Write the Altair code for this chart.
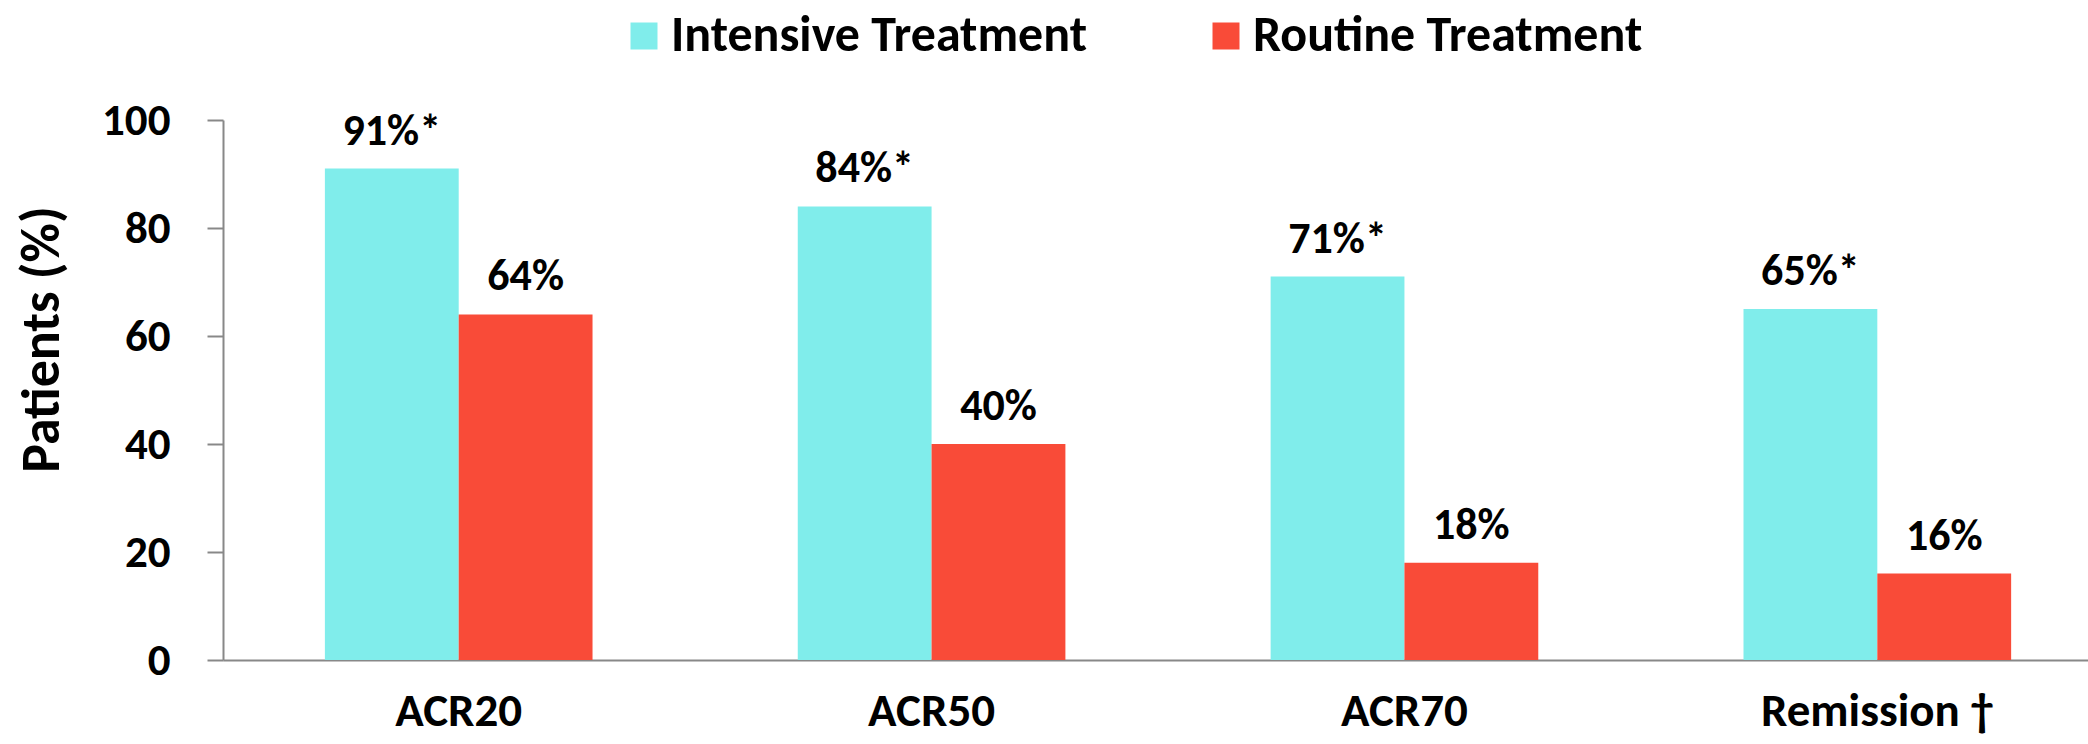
import altair as alt
import pandas as pd

# Response rates by outcome measure for the two treatment strategies
categories = ["ACR20", "ACR50", "ACR70", "Remission †"]
series = ["Intensive Treatment", "Routine Treatment"]
intensive = [91, 84, 71, 65]
routine = [64, 40, 18, 16]
significant = [True, True, True, True]  # intensive result flagged with *
colors = ["#80EDEB", "#F94B38"]
y_ticks = [0, 20, 40, 60, 80, 100]

rows = []
for i, cat in enumerate(categories):
    rows.append({"measure": cat, "group": series[0], "pct": intensive[i],
                 "label": f"{intensive[i]}%" + ("*" if significant[i] else "")})
    rows.append({"measure": cat, "group": series[1], "pct": routine[i],
                 "label": f"{routine[i]}%"})
df = pd.DataFrame(rows)

FONT = "Carlito, Lato, sans-serif"
AXIS_GRAY = "#888888"

x_enc = alt.X(
    "measure:N", sort=categories, title=None,
    scale=alt.Scale(paddingInner=0.434, paddingOuter=0.189, align=0.57),
    axis=alt.Axis(labelAngle=0, ticks=False, labelFontSize=47, labelFont=FONT,
                  labelFontWeight="bold", labelColor="black", labelPadding=28,
                  labelLimit=0, domainColor=AXIS_GRAY, domainWidth=2),
)
y_enc = alt.Y(
    "pct:Q", scale=alt.Scale(domain=[0, 100]),
    axis=alt.Axis(values=y_ticks, title="Patients (%)", grid=False,
                  tickSize=16, tickColor=AXIS_GRAY, tickWidth=2,
                  domainColor=AXIS_GRAY, domainWidth=2,
                  labelPadding=37, labelFontSize=45, labelFont=FONT,
                  labelFontWeight="bold", labelColor="black",
                  titleFontSize=54, titleFont=FONT, titleFontWeight="bold",
                  titleColor="black", titleAngle=270, titleX=-165, titleY=219,
                  titleBaseline="alphabetic", titleAlign="center"),
)
xoff = alt.XOffset("group:N", sort=series, scale=alt.Scale(paddingInner=0))

color_enc = alt.Color(
    "group:N", sort=series,
    scale=alt.Scale(domain=series, range=colors),
    legend=alt.Legend(orient="none", legendX=396, legendY=-109,
                      direction="horizontal", title=None,
                      symbolType="square", symbolSize=729, symbolStrokeWidth=0,
                      symbolOpacity=1, labelFontSize=50, labelFont=FONT,
                      labelFontWeight="bold", labelColor="black",
                      labelLimit=0, labelOffset=2, columnPadding=114),
)

bars = alt.Chart(df).mark_bar(opacity=1).encode(
    x=x_enc, y=y_enc, xOffset=xoff, color=color_enc
)

labels = alt.Chart(df).mark_text(
    dy=-24, baseline="alphabetic", fontSize=44, fontWeight="bold",
    font=FONT, color="black"
).encode(
    x=alt.X("measure:N", sort=categories),
    y="pct:Q",
    xOffset=xoff,
    text="label:N",
)

chart = (
    alt.layer(bars, labels)
    .properties(
        width=1865, height=540,
        autosize=alt.AutoSizeParams(type="none"),
        padding={"left": 223, "top": 120, "right": 0, "bottom": 84},
        background="white",
    )
    .configure_view(stroke=None)
)

chart.save("out.html", embed_options={"renderer": "svg", "actions": False})
